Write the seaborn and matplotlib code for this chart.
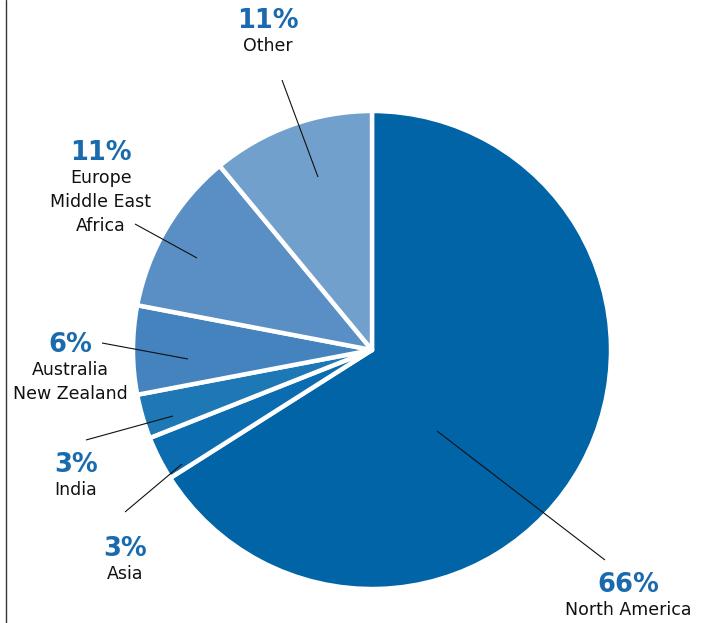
import matplotlib
matplotlib.use("Agg")
import matplotlib.pyplot as plt
from matplotlib.lines import Line2D
import seaborn as sns

# Revenue share by region
regions = ["North America", "Asia", "India", "Australia\nNew Zealand",
           "Europe\nMiddle East\nAfrica", "Other"]
shares = [66, 3, 3, 6, 11, 11]
colors = ["#0064a7", "#0b6daf", "#1e78b6", "#4483be", "#5a8fc6", "#72a0cd"]

# Label placement (pixel coordinates from the top-left corner)
pct_xy = [(628, 592), (125, 556), (76, 472), (70, 352), (101, 160), (268, 28)]
leaders = [((437, 431), (605, 560)),
           ((182, 464), (125, 512)),
           ((173, 416), (86, 440)),
           ((188, 359), (102, 343)),
           ((197, 258), (135, 224)),
           ((318, 177), (282, 80))]

W, H = 708, 623
CX, CY, R = 372, 350, 239

sns.set_theme(style="white")
plt.rcParams["font.family"] = ["DejaVu Sans"]

fig = plt.figure(figsize=(W / 100, H / 100), dpi=100)
ax = fig.add_axes([0, 0, 1, 1])

ax.pie(shares, colors=sns.color_palette(colors), startangle=90,
       counterclock=False, center=(CX, H - CY), radius=R,
       wedgeprops=dict(edgecolor="white", linewidth=3.2, joinstyle="round"))

ax.set_xlim(0, W)
ax.set_ylim(0, H)
ax.set_aspect("equal")
ax.axis("off")

pct_color = "#1a6bad"
for share, name, (px, py), (p0, p1) in zip(shares, regions, pct_xy, leaders):
    ax.text(px, H - py, f"{share}%", ha="center", va="baseline",
            fontsize=18.5, fontweight="bold", color=pct_color)
    for i, line in enumerate(name.split("\n")):
        ax.text(px, H - (py + 24 * (i + 1) - 1), line, ha="center",
                va="baseline", fontsize=12.5, color="#111111")
    ax.plot([p0[0], p1[0]], [H - p0[1], H - p1[1]], color="#111111",
            linewidth=0.8, solid_capstyle="butt")

# Left frame rule
fig.add_artist(Line2D([5.5 / W, 5.5 / W], [0, 1], color="#333333",
                      linewidth=1.0, transform=fig.transFigure))

fig.savefig("out.png", dpi=100, facecolor="white")
